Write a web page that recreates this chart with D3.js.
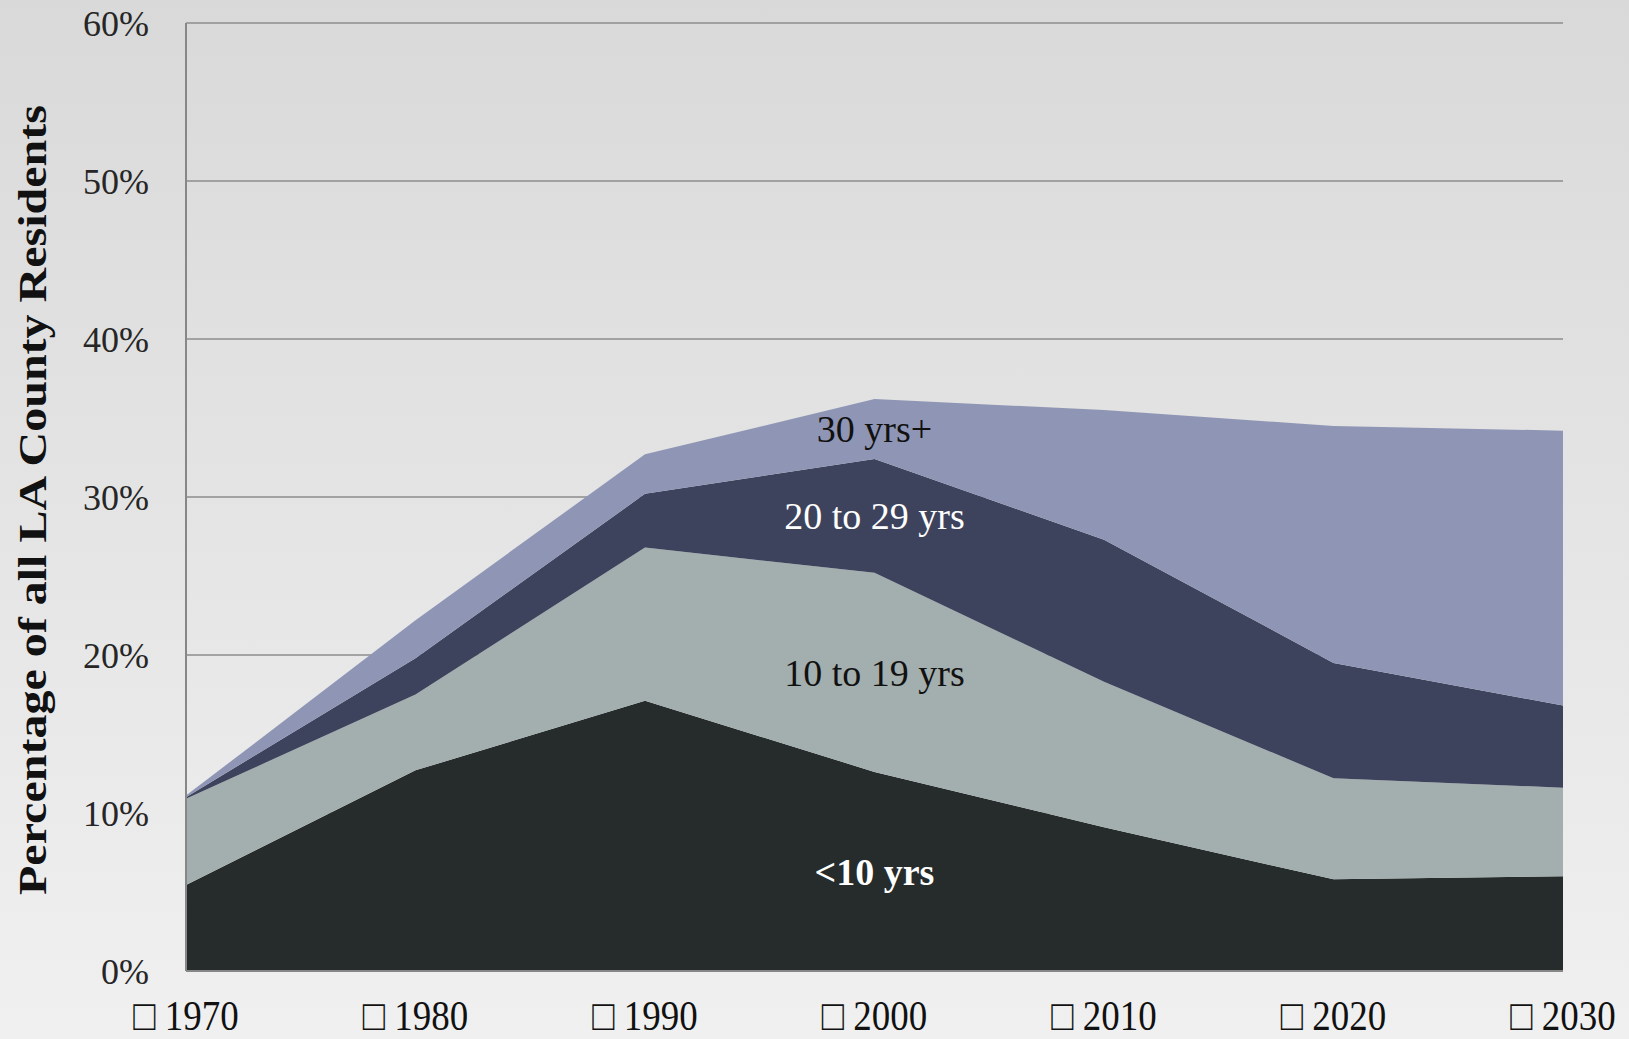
<!DOCTYPE html>
<html>
<head>
<meta charset="utf-8">
<script src="https://cdn.jsdelivr.net/npm/d3@7"></script>
<style>
  html, body { margin: 0; padding: 0; }
  body { width: 1629px; height: 1039px; overflow: hidden; }
  text { font-family: "Liberation Serif", "DejaVu Serif", serif; }
</style>
</head>
<body>
<svg width="1629" height="1039"></svg>
<script>
var years = ['1970', '1980', '1990', '2000', '2010', '2020', '2030'];
var bands = ['<10 yrs', '10 to 19 yrs', '20 to 29 yrs', '30 yrs+'];
// share of all residents, percent, per band
var under10 = [5.45, 12.7, 17.1, 12.6, 9.1, 5.8, 6.0];
var tenTo19 = [5.45, 4.8, 9.7, 12.6, 9.2, 6.4, 5.6];
var twentyTo29 = [0.1, 2.3, 3.4, 7.2, 9.0, 7.3, 5.2];
var thirtyPlus = [0.1, 2.4, 2.5, 3.8, 8.2, 15.0, 17.4];
var yTicks = [0, 10, 20, 30, 40, 50, 60];

var colors = ['#262b2b', '#a3aeae', '#3e435d', '#8f96b5'];
var labelColors = ['#ffffff', '#111111', '#ffffff', '#111111'];

var svg = d3.select('svg');

var grad = svg.append('defs').append('linearGradient')
    .attr('id', 'bg')
    .attr('x1', 0).attr('y1', 0).attr('x2', 0).attr('y2', 1);
grad.append('stop').attr('offset', '0%').attr('stop-color', '#d9d9d9');
grad.append('stop').attr('offset', '100%').attr('stop-color', '#f0f0f0');

svg.append('rect')
    .attr('width', 1629)
    .attr('height', 1039)
    .attr('fill', 'url(#bg)');

var plotLeft = 186, plotRight = 1563, plotTop = 23, plotBottom = 971;

var x = d3.scalePoint()
    .domain(years)
    .range([plotLeft, plotRight]);

var y = d3.scaleLinear()
    .domain([0, 60])
    .range([plotBottom, plotTop]);

var rows = years.map(function(yr, i) {
  return {
    year: yr,
    '<10 yrs': under10[i],
    '10 to 19 yrs': tenTo19[i],
    '20 to 29 yrs': twentyTo29[i],
    '30 yrs+': thirtyPlus[i]
  };
});

var series = d3.stack().keys(bands)(rows);

// gridlines
svg.append('g').selectAll('line')
    .data(yTicks.slice(1))
    .enter()
    .append('line')
    .attr('x1', plotLeft)
    .attr('x2', plotRight)
    .attr('y1', function(d) { return y(d); })
    .attr('y2', function(d) { return y(d); })
    .attr('stroke', '#8c8c8c')
    .attr('stroke-width', 1.5);

var area = d3.area()
    .x(function(d) { return x(d.data.year); })
    .y0(function(d) { return y(d[0]); })
    .y1(function(d) { return y(d[1]); });

svg.append('g').selectAll('path')
    .data(series)
    .enter()
    .append('path')
    .attr('d', area)
    .attr('fill', function(d, i) { return colors[i]; });

// axis lines
svg.append('line')
    .attr('x1', plotLeft).attr('x2', plotLeft)
    .attr('y1', plotTop).attr('y2', plotBottom)
    .attr('stroke', '#878787').attr('stroke-width', 2);
svg.append('line')
    .attr('x1', plotLeft).attr('x2', plotRight)
    .attr('y1', plotBottom).attr('y2', plotBottom)
    .attr('stroke', '#878787').attr('stroke-width', 2);

// y tick labels
svg.append('g').selectAll('text')
    .data(yTicks)
    .enter()
    .append('text')
    .attr('x', 149)
    .attr('y', function(d) { return y(d); })
    .attr('dy', '0.35em')
    .attr('text-anchor', 'end')
    .attr('font-size', 36)
    .attr('fill', '#262626')
    .text(function(d) { return d + '%'; });

// x tick labels
svg.append('g').selectAll('text')
    .data(years)
    .enter()
    .append('text')
    .attr('transform', function(d) {
      return 'translate(' + x(d) + ',1030) scale(0.86,1)';
    })
    .attr('text-anchor', 'middle')
    .attr('font-size', 43)
    .attr('fill', '#111')
    .text(function(d) { return '\u25A1 ' + d; });

// y title
svg.append('text')
    .attr('transform', 'translate(46,' + ((104 + 896) / 2) + ') rotate(-90)')
    .attr('text-anchor', 'middle')
    .attr('font-size', 40)
    .attr('font-weight', 'bold')
    .attr('fill', '#111')
    .attr('textLength', 790)
    .attr('lengthAdjust', 'spacingAndGlyphs')
    .text('Percentage of  all LA County Residents');

// band labels at the 2000 column
var labelIdx = years.indexOf('2000');
svg.append('g').selectAll('text')
    .data(series)
    .enter()
    .append('text')
    .attr('x', x('2000'))
    .attr('y', function(d) {
      var p = d[labelIdx];
      return y((p[0] + p[1]) / 2);
    })
    .attr('dy', '0.35em')
    .attr('text-anchor', 'middle')
    .attr('font-size', 38)
    .attr('font-weight', function(d, i) { return i === 0 ? 'bold' : 'normal'; })
    .attr('fill', function(d, i) { return labelColors[i]; })
    .text(function(d) { return d.key; });
</script>
</body>
</html>
